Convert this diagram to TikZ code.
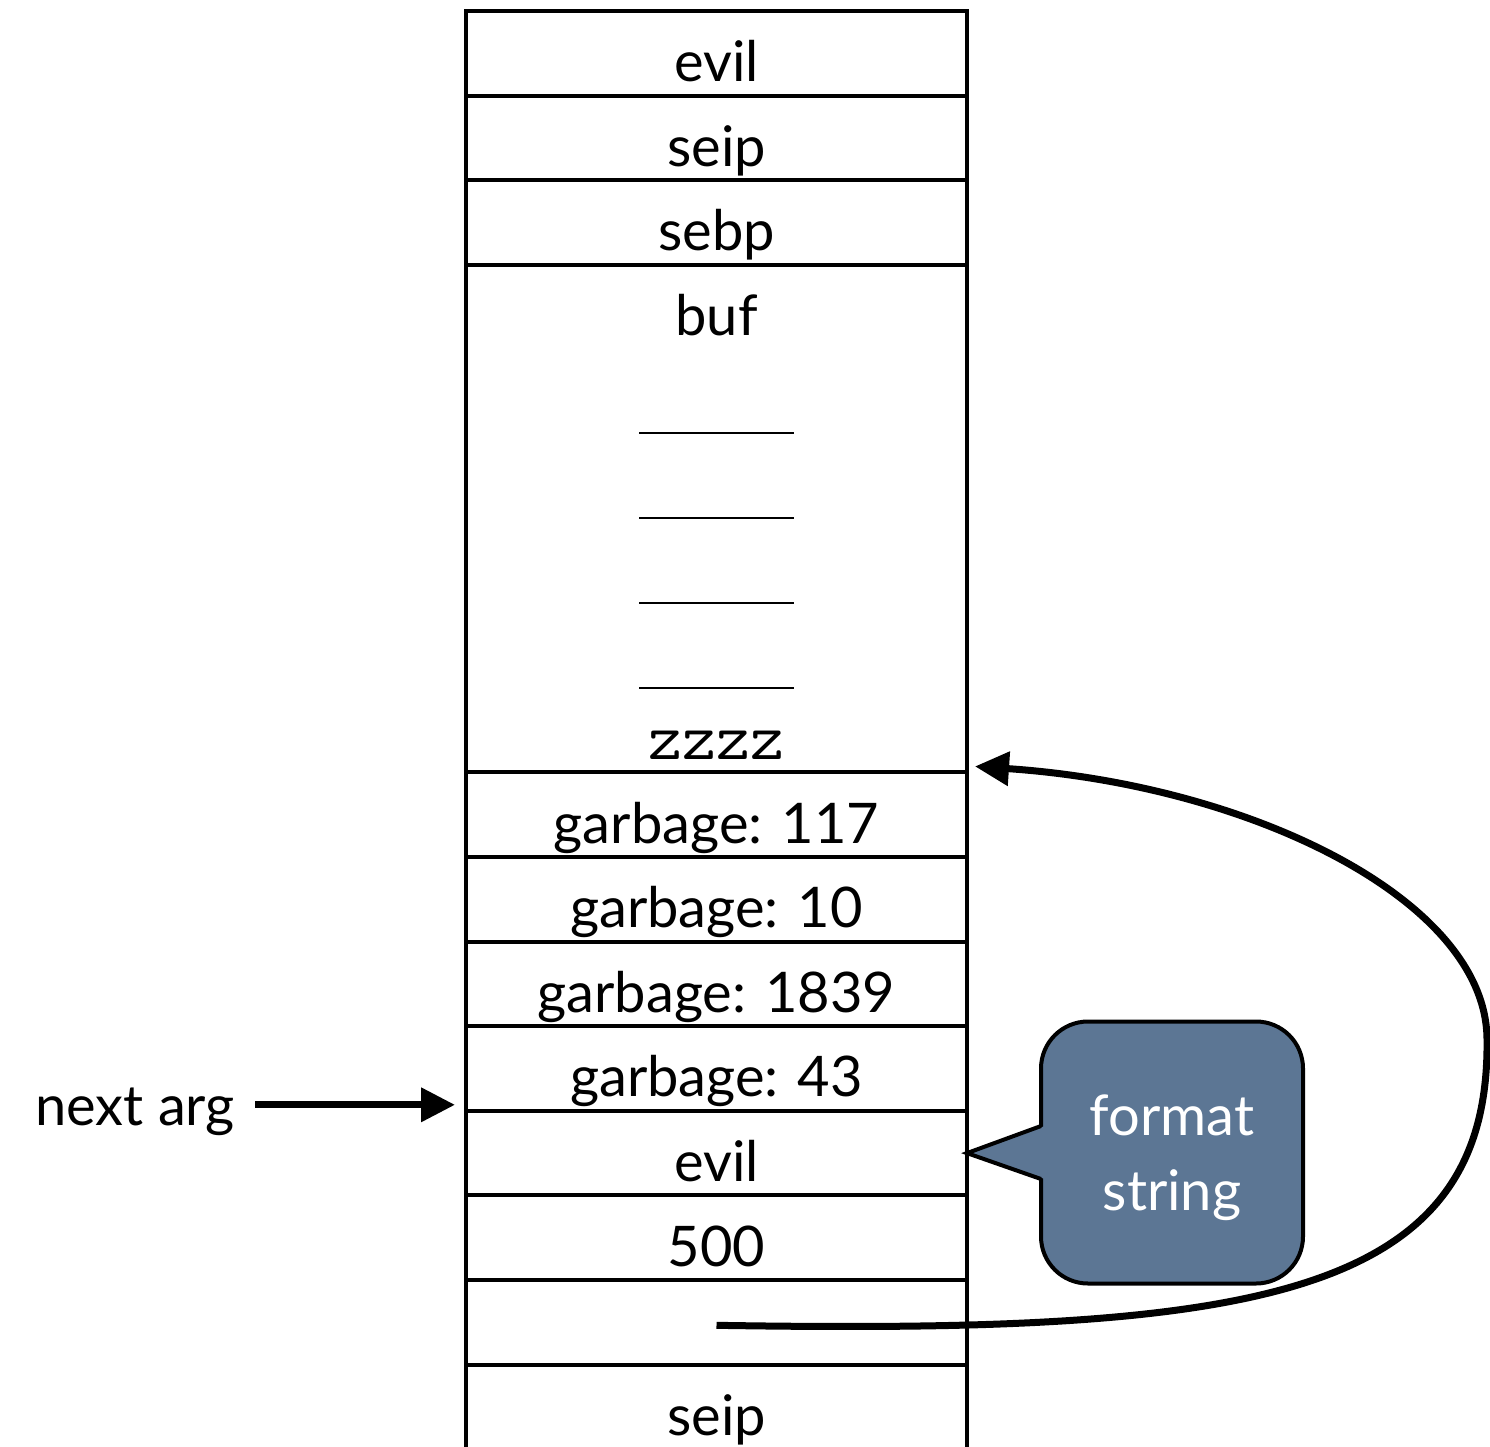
\documentclass[tikz,border=0pt]{standalone}
\usepackage{fontspec}
\setmainfont{Lato}
\usetikzlibrary{positioning,arrows.meta}
\definecolor{bubblefill}{RGB}{92,118,148}
\tikzset{
  cell/.style={draw, line width=4pt, minimum width=501pt, minimum height=84.6pt,
    inner sep=0pt, outer sep=0pt, text height=70.6pt, text depth=14pt,
    font=\fontsize{56}{60}\selectfont},
  lbl/.style={inner sep=0pt, font=\fontsize{56}{60}\selectfont},
  ptr/.style={line width=7pt, -{Triangle[length=34pt,width=33pt]}},
  bubble/.style={draw, line width=4pt, fill=bubblefill, rounded corners=47pt,
    minimum width=262pt, minimum height=262pt, outer sep=0pt, text=white,
    align=center, text depth=0pt, font=\fontsize{56}{75}\selectfont},
}

\begin{document}
\begin{tikzpicture}[x=1pt,y=-1pt]
  \useasboundingbox (0,0) rectangle (1490,1447);

  % the stack
  \node[cell] (evil1) at (716.5,53.3) {evil};
  \node[cell] (seip1) [below=0pt of evil1] {seip};
  \node[cell] (sebp) [below=0pt of seip1] {sebp};
  \node[cell, minimum height=507.6pt, text height=0pt, text depth=0pt] (buf) [below=0pt of sebp] {};
  \node[cell] (g117) [below=0pt of buf] {garbage: 117};
  \node[cell] (g10) [below=0pt of g117] {garbage: 10};
  \node[cell] (g1839) [below=0pt of g10] {garbage: 1839};
  \node[cell] (g43) [below=0pt of g1839] {garbage: 43};
  \node[cell] (evil2) [below=0pt of g43] {evil};
  \node[cell] (n500) [below=0pt of evil2] {500};
  \node[cell] (slot) [below=0pt of n500] {};
  \node[cell, minimum height=110.6pt, text depth=40pt] (seip2) [below=0pt of slot] {seip};

  % inside buf
  \node[lbl, text height=70.6pt, text depth=14pt, anchor=north] (buflbl) at (buf.north) {buf};
  \foreach \y in {433,518,603,688}
    \draw[line width=2pt] (639,\y) -- (794,\y);
  \node[lbl, font=\fontsize{66}{66}\ttfamily, anchor=base] (zzzz) at ([yshift=13pt]buf.south) {zzzz};

  % next arg
  \coordinate (argpos) at ([shift={(-11pt,6pt)}]g43.south west);
  \node[lbl, anchor=base east] (nextarg) at (235,1125) {next arg};
  \draw[ptr, shorten <=20pt] (nextarg.east |- argpos) -- (argpos);

  % pointer back into buf
  \coordinate (hit) at ([shift={(8pt,6pt)}]buf.south east);
  \draw[ptr] ([yshift=-3pt]slot.center) .. controls (1250,1334) and (1490,1300) .. (1487,1040)
    .. controls (1487,900) and (1250,785) .. (hit);

  % callout
  \node[bubble] (fmt) at (1172,1152.5) {format\\string};
  \fill[bubblefill] ([shift={(4pt,26.5pt)}]fmt.west) -- (evil2.east) -- ([shift={(4pt,-26.5pt)}]fmt.west) -- cycle;
  \draw[line width=4pt] ([yshift=26.5pt]fmt.west) -- (evil2.east) -- ([yshift=-26.5pt]fmt.west);
\end{tikzpicture}
\end{document}
